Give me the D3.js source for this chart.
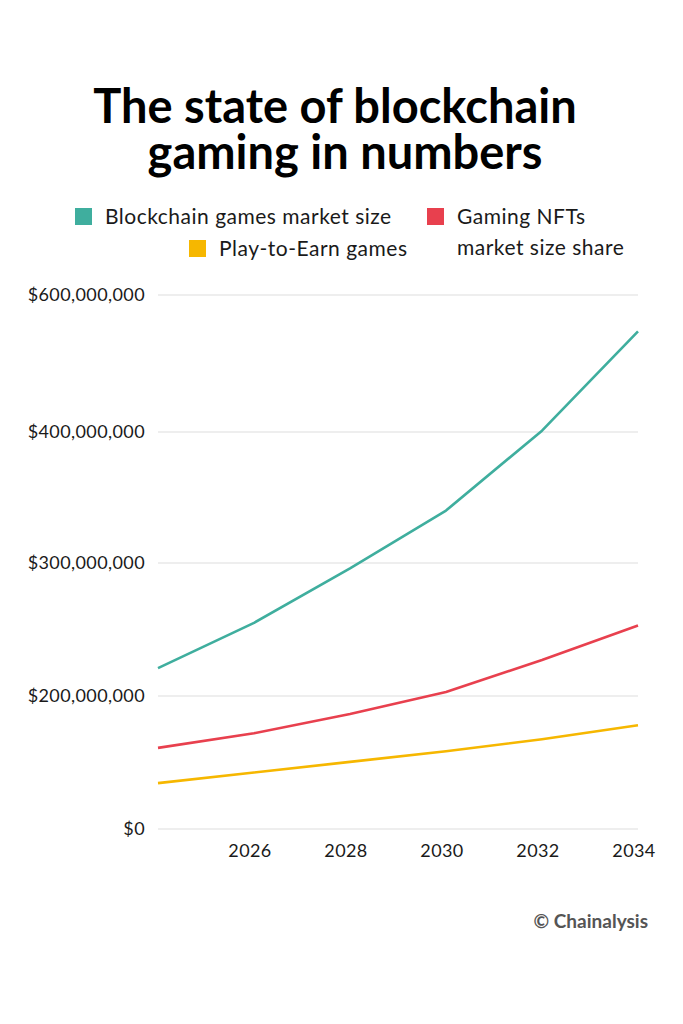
<!DOCTYPE html>
<html lang="en">
<head>
    <meta charset="UTF-8">
    <title>The state of blockchain gaming in numbers</title>
    <script src="https://d3js.org/d3.v7.min.js"></script>
    <style>
        body { margin: 0; background: #fff; }
        svg text { font-family: Lato, "Noto Sans", sans-serif; fill: #1a1a1a; }
        .title { font-weight: 700; font-size: 47px; fill: #000; }
        .legend text { font-size: 21px; letter-spacing: 0.5px; }
        .axis text { font-size: 18px; letter-spacing: 0.4px; }
        .grid line { stroke: #dedede; stroke-width: 1.2; }
        .series { fill: none; stroke-width: 2.6; stroke-linejoin: round; }
    </style>
</head>
<body>
<script>
    // chart data
    var years = [2024, 2026, 2028, 2030, 2032, 2034];
    var blockchainGames = [221e6, 255e6, 296e6, 340e6, 402e6, 547e6];
    var gamingNfts = [122e6, 144e6, 173e6, 203e6, 227e6, 253e6];
    var playToEarn = [69e6, 85e6, 101e6, 117e6, 135e6, 156e6];

    var yTicks = [0, 200e6, 300e6, 400e6, 600e6];
    var yTickLabels = ["$0", "$200,000,000", "$300,000,000", "$400,000,000", "$600,000,000"];
    var xTicks = [2026, 2028, 2030, 2032, 2034];

    var seriesNames = ["Blockchain games market size", "Gaming NFTs market size share", "Play-to-Earn games"];
    var seriesColors = ["#3fae9e", "#e8404e", "#f6b700"];

    var width = 683, height = 1024;

    var svg = d3.select("body").append("svg")
        .attr("width", width)
        .attr("height", height);

    // 标题
    var title = svg.append("text").attr("class", "title").attr("text-anchor", "middle");
    title.append("tspan").attr("x", 335).attr("y", 123).text("The state of blockchain");
    title.append("tspan").attr("x", 345).attr("y", 169).text("gaming in numbers");

    // 图例
    var legend = svg.append("g").attr("class", "legend");
    var legendItems = [
        { i: 0, x: 75, y: 208, lines: [seriesNames[0]] },
        { i: 1, x: 427, y: 208, lines: ["Gaming NFTs", "market size share"] },
        { i: 2, x: 189, y: 240, lines: [seriesNames[2]] }
    ];
    legendItems.forEach(function(d) {
        legend.append("rect")
            .attr("x", d.x).attr("y", d.y)
            .attr("width", 17).attr("height", 17)
            .attr("fill", seriesColors[d.i]);
        d.lines.forEach(function(t, k) {
            legend.append("text")
                .attr("x", d.x + 30)
                .attr("y", d.y + 16 + k * 31)
                .text(t);
        });
    });

    // 比例尺
    var x = d3.scaleLinear().domain([2024, 2034]).range([158, 638]);
    var y = d3.scaleLinear().domain(yTicks).range([829, 696, 563, 432, 295]);

    // 网格线和y轴
    var grid = svg.append("g").attr("class", "grid");
    grid.selectAll("line").data(yTicks).enter().append("line")
        .attr("x1", 158).attr("x2", 638)
        .attr("y1", function(d) { return y(d); })
        .attr("y2", function(d) { return y(d); });

    var yAxis = svg.append("g").attr("class", "axis");
    yAxis.selectAll("text").data(yTicks).enter().append("text")
        .attr("x", 145)
        .attr("y", function(d) { return y(d) + 6; })
        .attr("text-anchor", "end")
        .text(function(d, i) { return yTickLabels[i]; });

    var xAxis = svg.append("g").attr("class", "axis");
    xAxis.selectAll("text").data(xTicks).enter().append("text")
        .attr("x", function(d) { return x(d) - 4; })
        .attr("y", 857)
        .attr("text-anchor", "middle")
        .text(function(d) { return d; });

    // 折线
    var line = d3.line()
        .x(function(d, i) { return x(years[i]); })
        .y(function(d) { return y(d); });

    [blockchainGames, gamingNfts, playToEarn].forEach(function(values, i) {
        svg.append("path")
            .attr("class", "series")
            .attr("d", line(values))
            .attr("stroke", seriesColors[i]);
    });

    // 来源
    svg.append("text")
        .attr("x", 648).attr("y", 928)
        .attr("text-anchor", "end")
        .style("font-size", "19px")
        .style("font-weight", 700)
        .style("fill", "#555")
        .text("© Chainalysis");
</script>
</body>
</html>
